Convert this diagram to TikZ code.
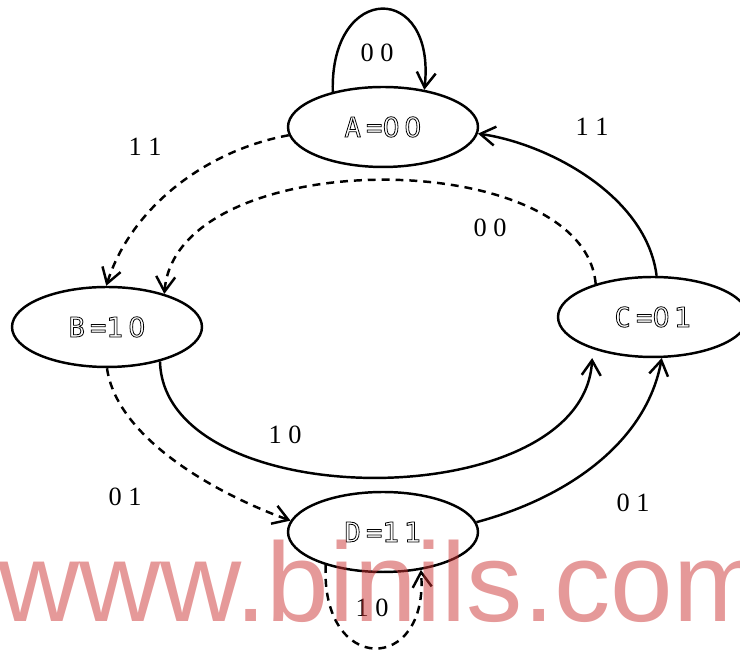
\documentclass[tikz,border=0pt]{standalone}
\usepackage{fontspec}
\usetikzlibrary{arrows.meta,positioning,shapes}
\setmainfont{Liberation Serif}
\newfontfamily\statefont[LetterSpace=19]{DejaVu Sans Mono}
\newfontfamily\statedigits[LetterSpace=16]{DejaVu Sans}
\newfontfamily\markfont{Liberation Sans}
\definecolor{wmred}{RGB}{204,51,51}
% hollow (outlined) letters for the state names
\newcommand{\hollow}[1]{\special{pdf:literal direct q 1 Tr 0.45 w}#1\special{pdf:literal direct Q}}
\newcommand{\stname}[2]{\hollow{#1={\statedigits #2}}}

\begin{document}
\begin{tikzpicture}[x=0.02cm,y=0.02cm,every node/.style={font=\fontsize{15}{18}\selectfont},
    state/.style={ellipse,draw,line width=1.4pt,minimum width=3.8cm,minimum height=1.6cm,inner sep=0pt,
      font=\statefont\fontsize{15.5}{18}\selectfont},
    trans/.style={line width=1.4pt,-{Straight Barb[length=3mm,width=3.8mm]}},
    transdash/.style={trans,dash pattern=on 4.5pt off 3.4pt}]
      \useasboundingbox (0,0) rectangle (740,651);
      % States
      \node[state] (A) at (383,524) {\stname{A}{00}};
      \node[state] (B) at (107,324) {\stname{B}{10}};
      \node[state] (C) at (653,334) {\stname{C}{01}};
      \node[state] (D) at (383,119) {\stname{D}{11}};
      % Transitions out of A
      \draw[trans] (A.145) .. controls +(-3,110) and +(12,108) .. (A.42);
      \draw[transdash] (A.185) .. controls +(-82,-15) and +(25,79) .. (B.91);
      % Transitions out of C
      \draw[transdash] (C.150) .. controls +(-12,140) and +(12,150) .. (B.30);
      \draw[trans] (C.85) .. controls +(-10,80) and +(70,-10) .. (A.356);
      % Transitions out of B
      \draw[trans,shorten >=0.18cm] (B.327) .. controls +(4,-155) and +(-9,-168) .. (C.208);
      \draw[transdash] (B.270) .. controls +(10,-71) and +(-72,26) .. (D.173);
      % Transitions out of D
      \draw[trans] (D.6) .. controls +(93,25) and +(-15,-83) .. (C.282);
      \draw[transdash] (D.210) .. controls +(-5,-110) and +(8,-105) .. (D.315);
      % Input labels
      \node (lAA) at (377,598) {0 0};
      \node (lAB) at (145,504) {1 1};
      \node (lCB) at (490,423) {0 0};
      \node (lCA) at (592,524) {1 1};
      \node (lBC) at (285,216) {1 0};
      \node (lBD) at (125,154) {0 1};
      \node (lDC) at (633,148) {0 1};
      \node (lDD) at (372,43) {1 0};
      % Watermark
      \node[anchor=base west,inner sep=0pt,text=wmred,text opacity=0.5,
        font=\markfont\fontsize{64}{70}\selectfont] (wm) at (-2,29) {www.binils.com};
    \end{tikzpicture}
\end{document}
